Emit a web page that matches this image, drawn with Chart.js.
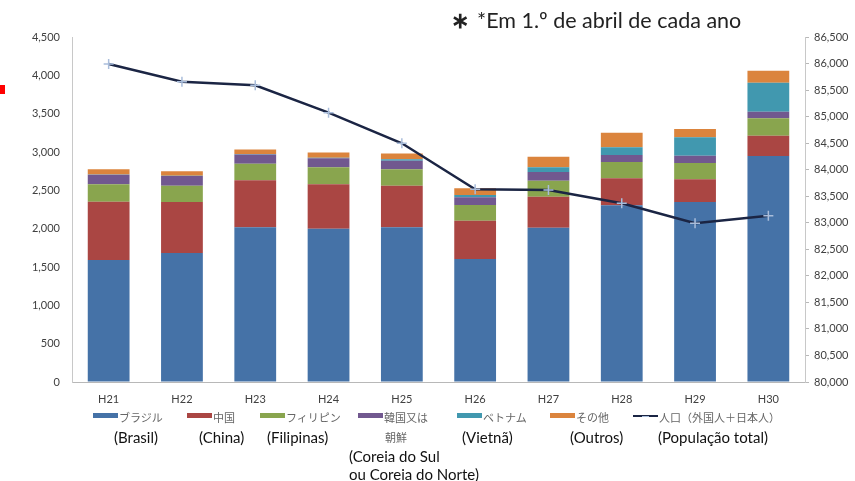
<!DOCTYPE html>
<html>
<head>
<meta charset="utf-8">
<script src="https://cdn.jsdelivr.net/npm/chart.js@4.4.1/dist/chart.umd.min.js"></script>
<style>
  html, body { margin: 0; padding: 0; background: #fff; }
  #wrap { position: relative; width: 855px; height: 481px; overflow: hidden; font-family: Lato, "Open Sans", sans-serif; }
  #popChart { position: absolute; left: 0; top: 0; }
  .note { position: absolute; left: 451px; top: 6px; font-size: 21.5px; color: #222; white-space: nowrap; }
  .note b { font-size: 22px; margin-right: 8px; }
  .mark { position: absolute; left: 0; top: 85px; width: 5px; height: 9px; background: #f00; }
  .sw { position: absolute; height: 5px; }
  .jp { position: absolute; font-family: "Noto Sans CJK JP", sans-serif; font-size: 11px; color: #666; white-space: nowrap; line-height: 14px; }
  .pt { position: absolute; font-size: 15px; color: #111; white-space: nowrap; line-height: 18px; }
</style>
</head>
<body>
<div id="wrap">
  <canvas id="popChart" width="855" height="481"></canvas>
  <div class="mark"></div>
  <div class="note"><b>∗</b>*Em 1.º de abril de cada ano</div>
  <div id="legend"></div>
</div>
<script>
// Categorias (ano Heisei)
const years = ['H21', 'H22', 'H23', 'H24', 'H25', 'H26', 'H27', 'H28', 'H29', 'H30'];

// Estrangeiros por nacionalidade (eixo esquerdo)
const brasil    = [1591, 1682, 2017, 1999, 2017, 1604, 2012, 2304, 2347, 2947];
const china     = [760, 665, 613, 579, 543, 499, 404, 352, 296, 265];
const filipinas = [227, 213, 217, 222, 214, 205, 209, 213, 213, 227];
const coreia    = [125, 126, 122, 117, 112, 101, 113, 91, 95, 86];
const vietna    = [4, 4, 6, 8, 18, 29, 62, 101, 240, 378];
const outros    = [67, 58, 59, 70, 78, 88, 138, 190, 108, 156];

// População total (eixo direito)
const populacao = [85990, 85658, 85590, 85074, 84497, 83630, 83617, 83366, 82990, 83134];

// Legenda
const jpLabels = ['ブラジル', '中国', 'フィリピン', '韓国又は', 'ベトナム', 'その他', '人口（外国人＋日本人）'];
const ptLabels = ['(Brasil)', '(China)', '(Filipinas)', '', '(Vietnã)', '(Outros)', '(População total)'];

const colors = ['#4572A7', '#AA4643', '#89A54E', '#71588F', '#4198AF', '#DB843D'];
const lineColor = '#1b2544';

const series = [brasil, china, filipinas, coreia, vietna, outros];

const datasets = series.map((d, i) => ({
    type: 'bar',
    label: jpLabels[i],
    data: d,
    backgroundColor: colors[i],
    borderWidth: 0,
    yAxisID: 'y',
    stack: 'est',
    order: 1,
    barPercentage: 0.57,
    categoryPercentage: 1
}));

datasets.push({
    type: 'line',
    label: jpLabels[6],
    data: populacao,
    yAxisID: 'y2',
    borderColor: lineColor,
    borderWidth: 2.5,
    tension: 0,
    pointStyle: 'cross',
    pointRadius: 5,
    pointBorderColor: '#a9bddb',
    pointBorderWidth: 1.5,
    order: 0
});

const tickFont = { family: 'Lato', size: 11 };
const fmt = v => v.toLocaleString('en-US');

const ctx = document.getElementById('popChart').getContext('2d');
new Chart(ctx, {
    data: { labels: years, datasets: datasets },
    options: {
        responsive: false,
        animation: false,
        layout: { padding: { top: 37, bottom: 0, left: 0, right: 0 } },
        plugins: { legend: { display: false }, tooltip: { enabled: false } },
        scales: {
            x: {
                stacked: true,
                grid: { display: false },
                border: { color: '#b8b8b8' },
                ticks: { font: tickFont, color: '#404040', padding: 3 },
                afterFit: s => { s.height = 99; }
            },
            y: {
                position: 'left',
                stacked: true,
                min: 0, max: 4500,
                ticks: { stepSize: 500, font: tickFont, color: '#404040', padding: 12, callback: fmt },
                grid: { drawOnChartArea: false, drawTicks: false },
                border: { color: '#c8c8c8' },
                afterFit: s => { s.width = 72; }
            },
            y2: {
                position: 'right',
                min: 80000, max: 86500,
                ticks: { stepSize: 500, font: tickFont, color: '#404040', padding: 5, callback: fmt },
                grid: { drawOnChartArea: false, tickLength: 4, color: '#b8b8b8' },
                border: { color: '#c8c8c8' },
                afterFit: s => { s.width = 50; }
            }
        }
    }
});

// Legenda em HTML (posições)
const swatchX = [93, 187, 260, 358, 457, 550, 633];
const ptX     = [114, 199, 267, 0, 462, 570, 658];
const legend = document.getElementById('legend');
function add(cls, x, y, text, extra) {
    const el = document.createElement('div');
    el.className = cls;
    el.style.left = x + 'px';
    el.style.top = y + 'px';
    if (text) el.textContent = text;
    if (extra) Object.assign(el.style, extra);
    legend.appendChild(el);
    return el;
}
jpLabels.forEach((t, i) => {
    const x = swatchX[i];
    if (i < 6) {
        add('sw', x, 413, '', { width: '25px', background: colors[i] });
    } else {
        add('sw', x, 415, '', { width: '25px', height: '2px', background: lineColor });
        add('sw', x + 9, 416, '', { width: '7px', height: '1px', background: '#a9bddb' });
    }
    add('jp', x + 26, 410, t);
    if (ptLabels[i]) add('pt', ptX[i], 428, ptLabels[i]);
});
add('jp', 385, 430, '朝鮮');
add('pt', 349, 447, '(Coreia do Sul');
add('pt', 349, 465, 'ou Coreia do Norte)');
</script>
</body>
</html>
